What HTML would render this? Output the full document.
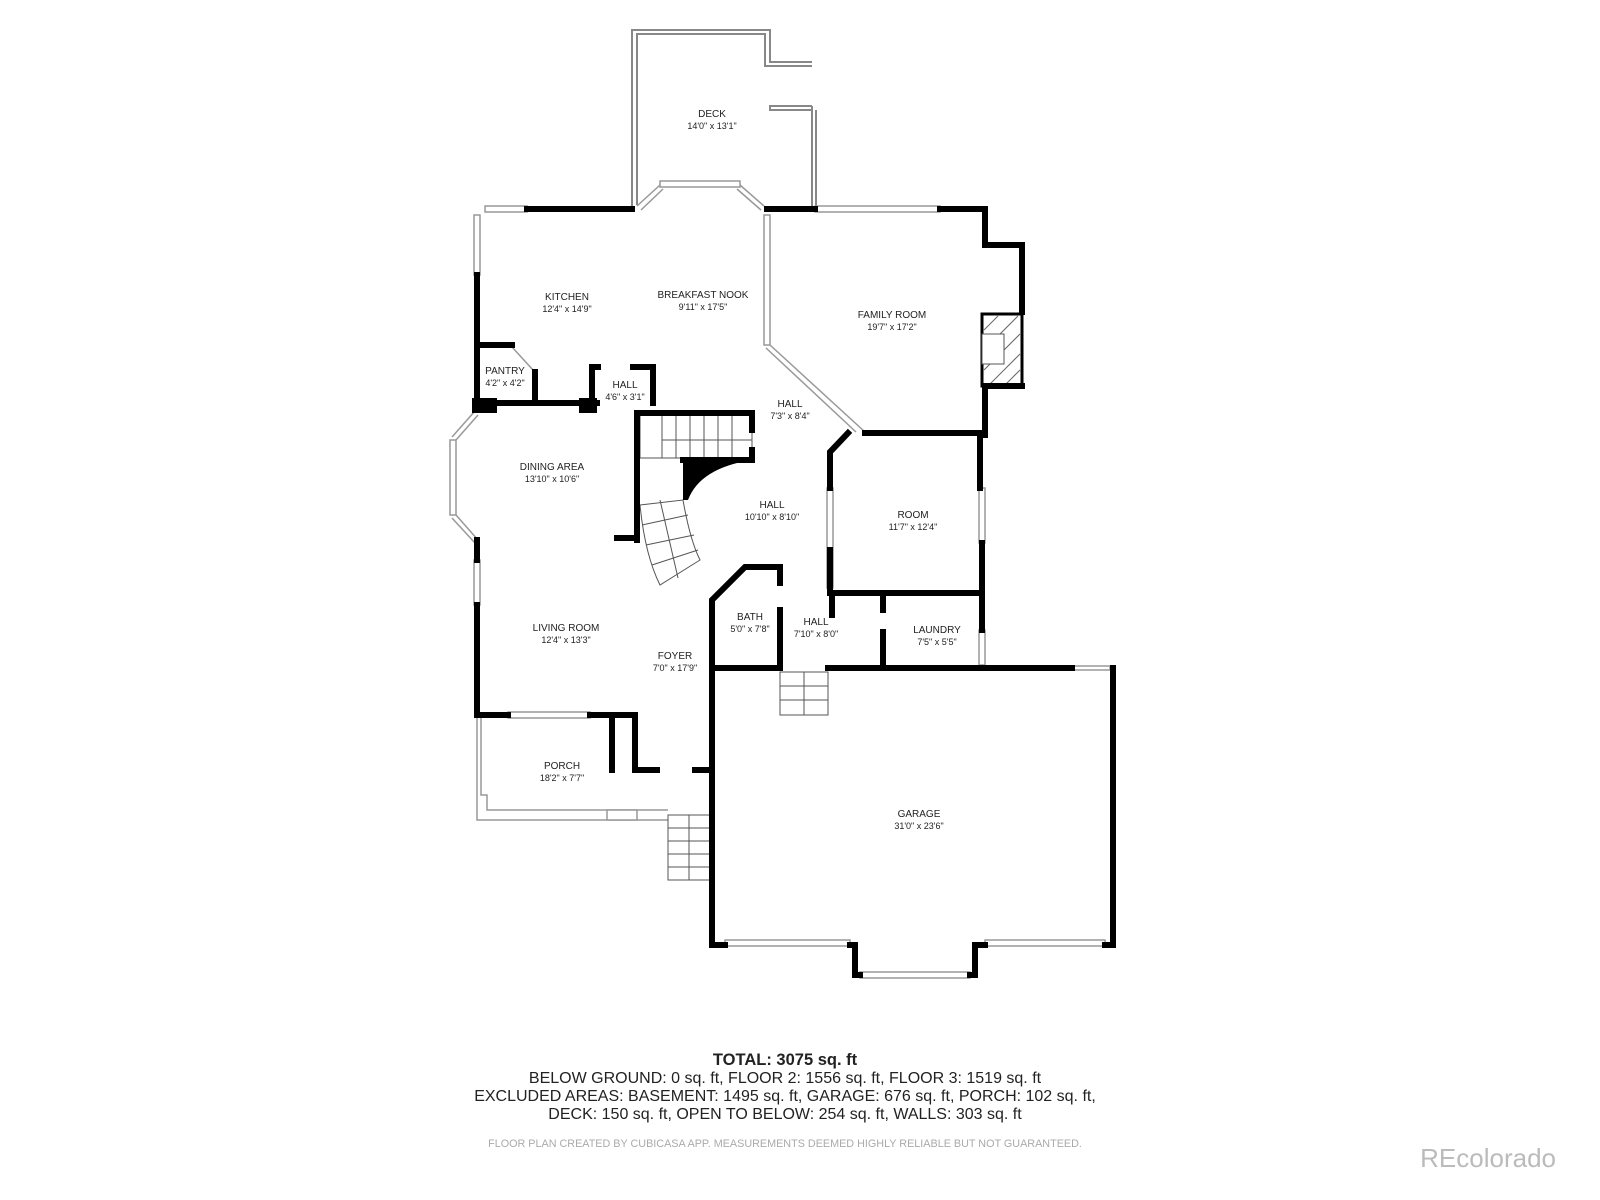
<!DOCTYPE html>
<html><head><meta charset="utf-8"><style>
body{margin:0;background:#fff;}
svg{display:block}
text{font-family:"Liberation Sans",sans-serif;fill:#222;}
</style></head><body>
<svg width="1600" height="1200" viewBox="0 0 1600 1200" xmlns="http://www.w3.org/2000/svg">
<rect width="1600" height="1200" fill="#fff"/>
<g stroke="#888" stroke-width="2" fill="none">
<polyline points="632,209 632,30 770,30 770,62 812,62"/>
<polyline points="637,205 637,34 765,34 765,66 812,66"/>
<polyline points="812,106 770,106 770,110 812,110"/>
<polyline points="812,106 812,209"/><polyline points="816,110 816,209"/>
</g>
<g stroke="#999" stroke-width="1.5" fill="#fff">
<rect x="485" y="206" width="42" height="6"/>
<rect x="474" y="215" width="6" height="60"/>
<rect x="660" y="181" width="80" height="6"/>
<rect x="815" y="206" width="125" height="6"/>
<rect x="764" y="215" width="6" height="130"/>
<rect x="979" y="488" width="6" height="55"/>
<rect x="827" y="488" width="6" height="100"/>
<rect x="474" y="560" width="6" height="45"/>
<rect x="508" y="712" width="82" height="6"/>
<rect x="450" y="440" width="6" height="75"/>
<rect x="979" y="630" width="6" height="35"/>
<rect x="725" y="940" width="125" height="6"/>
<rect x="985" y="940" width="120" height="6"/>
<rect x="860" y="972" width="110" height="6"/>
<rect x="1072" y="666" width="38" height="4"/>
</g>
<g stroke="#999" stroke-width="1.5" fill="none">
<line x1="456" y1="440" x2="478" y2="415"/><line x1="452" y1="437" x2="475" y2="411"/>
<line x1="456" y1="515" x2="478" y2="540"/><line x1="452" y1="518" x2="475" y2="543"/>
<line x1="637" y1="206" x2="660" y2="185"/><line x1="641" y1="210" x2="663" y2="189"/>
<line x1="740" y1="185" x2="764" y2="206"/><line x1="737" y1="189" x2="761" y2="210"/>
<line x1="770" y1="345" x2="865" y2="432"/><line x1="766" y1="348" x2="856" y2="432"/>
<line x1="512" y1="347" x2="533" y2="370"/>
<polyline points="477,715 477,820 668,820"/><polyline points="481,718 481,795 487,795 487,810 668,810"/>
<rect x="607" y="810" width="30" height="10" fill="#fff"/>
</g>
<g stroke="#555" stroke-width="1" fill="none">
<rect x="640" y="413" width="112" height="45"/>
<line x1="662" y1="413" x2="662" y2="458"/><line x1="676" y1="413" x2="676" y2="458"/><line x1="690" y1="413" x2="690" y2="458"/><line x1="704" y1="413" x2="704" y2="458"/><line x1="718" y1="413" x2="718" y2="458"/><line x1="732" y1="413" x2="732" y2="458"/>
<line x1="662" y1="440" x2="752" y2="440"/>
<path d="M640,505 L683,500 Q690,540 700,560 L660,585 Q645,555 640,505 Z"/>
<line x1="642" y1="525" x2="688" y2="515"/><line x1="646" y1="545" x2="694" y2="535"/><line x1="652" y1="565" x2="698" y2="550"/><line x1="660" y1="500" x2="678" y2="578"/>
<rect x="780" y="672" width="48" height="43"/>
<line x1="804" y1="672" x2="804" y2="715"/><line x1="780" y1="686" x2="828" y2="686"/><line x1="780" y1="700" x2="828" y2="700"/>
<rect x="668" y="815" width="42" height="65"/>
<line x1="689" y1="815" x2="689" y2="880"/>
<line x1="668" y1="828" x2="710" y2="828"/><line x1="668" y1="841" x2="710" y2="841"/><line x1="668" y1="854" x2="710" y2="854"/><line x1="668" y1="867" x2="710" y2="867"/>
</g>
<path d="M683,460 L752,460 Q700,468 688,500 L683,500 Z" fill="#000"/>
<rect x="982" y="314" width="40" height="72" fill="#fff" stroke="#000" stroke-width="3"/>
<g stroke="#666" stroke-width="1">
<line x1="984" y1="330" x2="998" y2="316"/><line x1="984" y1="350" x2="1018" y2="316"/><line x1="984" y1="370" x2="1020" y2="334"/><line x1="990" y1="384" x2="1020" y2="354"/><line x1="1006" y1="384" x2="1020" y2="370"/>
</g>
<rect x="982" y="334" width="22" height="30" fill="#fff" stroke="#555" stroke-width="1"/>
<g stroke="#000" stroke-width="6" fill="none" stroke-linecap="square">
<polyline points="527,209 632,209"/>
<polyline points="477,275 477,410"/>
<polyline points="767,209 815,209"/><polyline points="940,209 985,209 985,245 1022,245 1022,312"/>
<polyline points="1022,386 985,386 985,435"/>
<polyline points="477,345 512,345"/>
<polyline points="535,372 535,403"/>
<polyline points="477,403 597,403"/>
<polyline points="592,403 592,367 598,367"/><polyline points="633,367 653,367 653,403"/>
<polyline points="637,540 637,413 752,413 752,430"/><polyline points="752,450 752,460 683,460"/>
<polyline points="617,538 637,538"/>
<polyline points="477,540 477,560"/><polyline points="477,605 477,715 508,715"/>
<polyline points="590,715 635,715 635,770 657,770"/><polyline points="612,715 612,770"/>
<polyline points="695,770 712,770"/>
<polyline points="865,433 980,433 980,488"/><polyline points="982,543 982,630"/>
<polyline points="848,433 830,452 830,488"/><polyline points="830,550 830,593 982,593"/>
<polyline points="712,945 712,600 745,567 780,567 780,583"/><polyline points="780,610 780,668"/>
<polyline points="712,668 780,668"/><polyline points="828,668 1072,668"/>
<polyline points="1113,668 1113,945 1105,945"/><polyline points="712,945 725,945"/>
<polyline points="850,945 855,945 855,975 860,975"/><polyline points="970,975 975,975 975,945 985,945"/>
<polyline points="883,596 883,610"/><polyline points="883,632 883,665"/>
<polyline points="832,596 832,615"/>
</g>
<rect x="472" y="398" width="25" height="15" fill="#000"/>
<rect x="579" y="398" width="18" height="15" fill="#000"/>
<g font-size="10" text-anchor="middle">
<text x="712" y="117">DECK</text><text x="712" y="129" font-size="9">14'0" x 13'1"</text>
<text x="567" y="300">KITCHEN</text><text x="567" y="312" font-size="9">12'4" x 14'9"</text>
<text x="703" y="298">BREAKFAST NOOK</text><text x="703" y="310" font-size="9">9'11" x 17'5"</text>
<text x="892" y="318">FAMILY ROOM</text><text x="892" y="330" font-size="9">19'7" x 17'2"</text>
<text x="505" y="374">PANTRY</text><text x="505" y="386" font-size="9">4'2" x 4'2"</text>
<text x="625" y="388">HALL</text><text x="625" y="400" font-size="9">4'6" x 3'1"</text>
<text x="790" y="407">HALL</text><text x="790" y="419" font-size="9">7'3" x 8'4"</text>
<text x="552" y="470">DINING AREA</text><text x="552" y="482" font-size="9">13'10" x 10'6"</text>
<text x="772" y="508">HALL</text><text x="772" y="520" font-size="9">10'10" x 8'10"</text>
<text x="913" y="518">ROOM</text><text x="913" y="530" font-size="9">11'7" x 12'4"</text>
<text x="750" y="620">BATH</text><text x="750" y="632" font-size="9">5'0" x 7'8"</text>
<text x="816" y="625">HALL</text><text x="816" y="637" font-size="9">7'10" x 8'0"</text>
<text x="937" y="633">LAUNDRY</text><text x="937" y="645" font-size="9">7'5" x 5'5"</text>
<text x="566" y="631">LIVING ROOM</text><text x="566" y="643" font-size="9">12'4" x 13'3"</text>
<text x="675" y="659">FOYER</text><text x="675" y="671" font-size="9">7'0" x 17'9"</text>
<text x="562" y="769">PORCH</text><text x="562" y="781" font-size="9">18'2" x 7'7"</text>
<text x="919" y="817">GARAGE</text><text x="919" y="829" font-size="9">31'0" x 23'6"</text>
</g>
<g text-anchor="middle" font-size="16">
<text x="785" y="1065" font-weight="bold" font-size="16.5">TOTAL: 3075 sq. ft</text>
<text x="785" y="1083">BELOW GROUND: 0 sq. ft, FLOOR 2: 1556 sq. ft, FLOOR 3: 1519 sq. ft</text>
<text x="785" y="1101">EXCLUDED AREAS: BASEMENT: 1495 sq. ft, GARAGE: 676 sq. ft, PORCH: 102 sq. ft,</text>
<text x="785" y="1119">DECK: 150 sq. ft, OPEN TO BELOW: 254 sq. ft, WALLS: 303 sq. ft</text>
<text x="785" y="1147" font-size="10.8" style="fill:#aaa">FLOOR PLAN CREATED BY CUBICASA APP. MEASUREMENTS DEEMED HIGHLY RELIABLE BUT NOT GUARANTEED.</text>
</g>
<text x="1556" y="1167" font-size="26" text-anchor="end" style="fill:#bbb">REcolorado</text>
</svg>
</body></html>
